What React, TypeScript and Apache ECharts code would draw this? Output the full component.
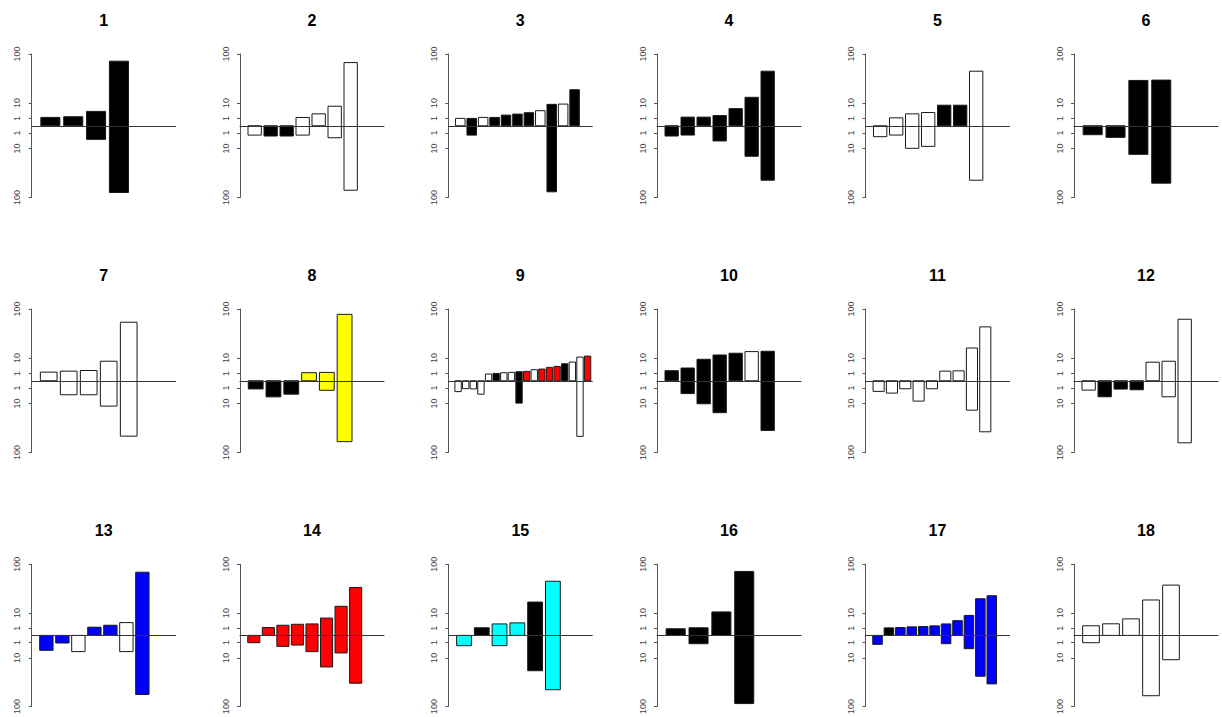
import React, { useEffect, useRef } from "react";
import * as echarts from "echarts";

const panelTitles = ["1", "2", "3", "4", "5", "6", "7", "8", "9", "10", "11", "12", "13", "14", "15", "16", "17", "18"];

// magnitude of the upper part of each bar
const upValues: number[][] = [
  [1.35, 1.58, 4, 81],
  [0, 0, 0, 1.33, 2.75, 7.4, 77.5],
  [1.05, 1.05, 1.35, 1.35, 2.2, 2.65, 3.3, 4.4, 8.9, 9.1, 25.2],
  [0, 1.44, 1.44, 2.04, 5.7, 15.7, 57.8],
  [0, 1.22, 2.75, 3.4, 8.2, 8.2, 57.8],
  [0, 0, 39.9, 40.5],
  [1.44, 1.79, 2.04, 7.4, 66.5],
  [0, 0, 0, 1.26, 1.36, 85.6],
  [0, 0, 0, 0, 0.87, 1.05, 1.25, 1.35, 1.58, 1.7, 2.36, 2.65, 3.46, 4.0, 5.6, 6.8, 10.9, 11.8],
  [1.96, 3.15, 8.95, 12.9, 14.7, 16.5, 16.9],
  [0, 0, 0, 0, 0, 1.79, 1.91, 20.8, 56.4],
  [0, 0, 0, 0, 6.66, 7.4, 73.5],
  [0, 0, 0, 1.33, 2.04, 3.23, 79],
  [0, 1.22, 2.04, 2.45, 2.6, 5.96, 16.8, 45.3],
  [0, 1.15, 2.6, 3.1, 22, 58],
  [0.87, 1.15, 10.9, 81],
  [0, 1.12, 1.22, 1.44, 1.55, 1.79, 2.6, 4.3, 7.9, 26.6, 31.1],
  [1.83, 2.66, 5.4, 24.8, 50],
];

// magnitude of the lower part of each bar
const downValues: number[][] = [
  [0, 0, 3.6, 86.5],
  [1.7, 2.05, 2.05, 1.7, 0, 2.8, 80.7],
  [0, 1.7, 0, 0, 0, 0, 0, 0, 84.8, 0, 0],
  [2.05, 1.68, 0, 4.5, 0, 18.1, 57.6],
  [2.33, 1.68, 9.9, 8.24, 0, 0, 57.6],
  [1.56, 2.63, 15.9, 64],
  [0, 3.8, 3.8, 12.5, 59.6],
  [1.3, 5.05, 3.5, 0, 1.77, 72],
  [2.3, 1.21, 1.3, 3.5, 0, 0, 0, 0, 9.7, 0, 0, 0, 0, 0, 0, 0, 60, 0],
  [0, 3.2, 10.3, 19.8, 0, 0, 48],
  [2.2, 2.96, 1.25, 8.05, 1.25, 0, 0, 16.8, 50.6],
  [1.7, 5, 1.35, 1.58, 0, 5, 74.8],
  [4.4, 1.15, 5.2, 0, 0, 5.2, 69],
  [1.06, 0, 2.38, 1.84, 5.24, 19.7, 6.1, 45.3],
  [2.1, 0, 2.1, 0, 24.7, 58.5],
  [0, 1.37, 0, 92],
  [1.59, 0, 0, 0, 0, 0, 1.36, 0, 3.5, 33, 46.5],
  [1.06, 0, 0, 72, 11.7],
];

// fill code per bar: k black, w white, y yellow, r red, b blue, c cyan
const fillCodes: string[] = [
  "kkkk",
  "wkkwwww",
  "wkwkkkkwkwk",
  "kkkkkkk",
  "wwwwkkw",
  "kkkk",
  "wwwww",
  "kkkyyy",
  "wwwwwkwwkrwrrrkwwr",
  "kkkkkwk",
  "wwwwwwwww",
  "wkkkwww",
  "bbwbbwb",
  "rrrrrrrr",
  "ckcckc",
  "kkkk",
  "bkbbbbbbbbb",
  "wwwww",
];

const yTickLabels = [100, 10, 1];

const colorMap: Record<string, string> = {
  k: "#000000",
  w: "#ffffff",
  y: "#ffff00",
  r: "#ff0000",
  b: "#0000ff",
  c: "#00ffff",
};

const colX = [31.7, 240, 448.3, 657, 865.5, 1074];
const rowTop = [54, 309, 564.3];
const titleY = [20, 275, 530];
const plotW = 144;
const plotH = 143.5;

function buildOption() {
  const tickPos: number[] = [];
  yTickLabels.forEach((v) => {
    tickPos.push(Math.sqrt(v));
    tickPos.push(-Math.sqrt(v));
  });
  tickPos.sort((a, b) => a - b);

  const grid: any[] = [];
  const xAxis: any[] = [];
  const yAxis: any[] = [];
  const series: any[] = [];
  const graphic: any[] = [];
  const axisColor = "#333";

  panelTitles.forEach((t, i) => {
    const r = Math.floor(i / 6);
    const c = i % 6;
    const n = upValues[i].length;
    const span = n + 3;
    grid.push({ left: colX[c], top: rowTop[r], width: plotW, height: plotH });
    xAxis.push({
      gridIndex: i,
      type: "value",
      min: -0.04 * span,
      max: 1.04 * span,
      z: 10,
      axisLine: { show: true, onZero: true, lineStyle: { color: axisColor, width: 1 } },
      axisTick: { show: false },
      axisLabel: { show: false },
      splitLine: { show: false },
    });
    yAxis.push({
      gridIndex: i,
      type: "value",
      min: -10,
      max: 10,
      axisLine: { show: true, onZero: false, lineStyle: { color: "#555", width: 1 } },
      axisTick: { show: true, length: 3, customValues: tickPos, lineStyle: { color: "#555" } },
      axisLabel: {
        show: true,
        customValues: tickPos,
        rotate: 90,
        fontSize: 9,
        color: "#444",
        margin: 10,
        formatter: (v: number) => String(Math.round(v * v)),
      },
      splitLine: { show: false },
    });
    const fills = fillCodes[i].split("").map((ch) => colorMap[ch]);
    series.push({
      type: "custom",
      xAxisIndex: i,
      yAxisIndex: i,
      encode: { x: 0, y: [1, 2] },
      data: upValues[i].map((u, j) => [j, Math.sqrt(u), -Math.sqrt(downValues[i][j])]),
      renderItem: (params: any, api: any) => {
        const j = api.value(0);
        const u = api.value(1);
        const d = api.value(2);
        const x0 = 0.2 + 1.2 * j;
        const p0 = api.coord([x0, u]);
        const p1 = api.coord([x0 + 1, d]);
        return {
          type: "rect",
          shape: { x: p0[0], y: p0[1], width: p1[0] - p0[0], height: p1[1] - p0[1] },
          style: { fill: fills[params.dataIndex], stroke: "#1a1a1a", lineWidth: 1 },
        };
      },
    });
    graphic.push({
      type: "text",
      x: colX[c] + plotW / 2,
      y: titleY[r],
      style: {
        text: t,
        fontSize: 16,
        fontWeight: "bold",
        fontFamily: "Liberation Sans, Arial, sans-serif",
        fill: "#000",
        align: "center",
        verticalAlign: "middle",
      },
    });
  });

  return {
    animation: false,
    backgroundColor: "#ffffff",
    textStyle: { fontFamily: "Liberation Sans, Arial, sans-serif" },
    grid,
    xAxis,
    yAxis,
    series,
    graphic,
  };
}

export default function App() {
  const ref = useRef<HTMLDivElement>(null);
  useEffect(() => {
    if (!ref.current) return;
    const chart = echarts.init(ref.current, undefined, { renderer: "svg" });
    chart.setOption(buildOption() as any);
    return () => chart.dispose();
  }, []);
  return (
    <div
      ref={ref}
      style={{ position: "fixed", left: 0, top: 0, width: 1222, height: 717, background: "#fff" }}
    />
  );
}
